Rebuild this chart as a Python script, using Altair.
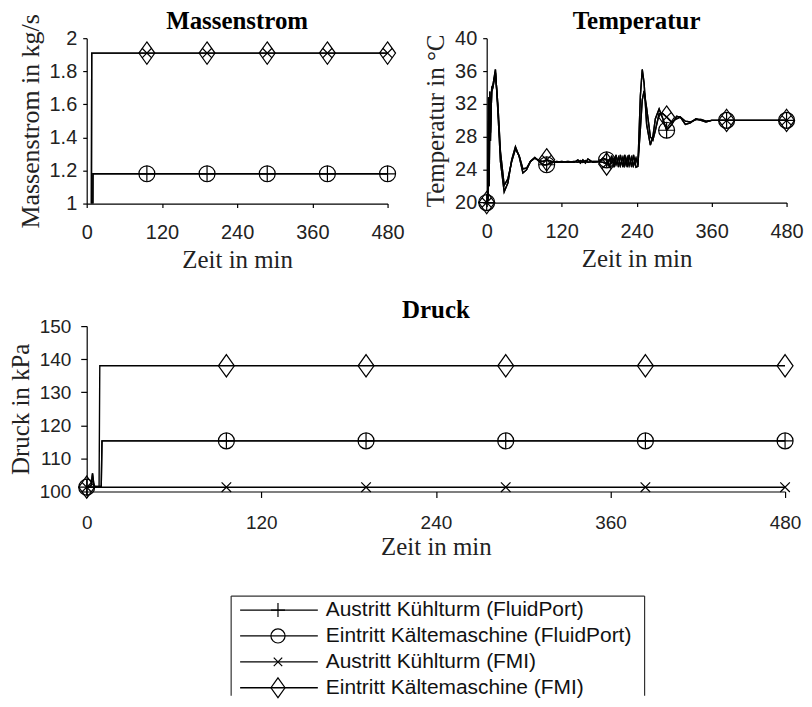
import altair as alt
import pandas as pd

# ---------------- data ----------------
series_names = [
    "Austritt Kühlturm (FluidPort)",
    "Eintritt Kältemaschine (FluidPort)",
    "Austritt Kühlturm (FMI)",
    "Eintritt Kältemaschine (FMI)",
]
x_ticks = [0, 120, 240, 360, 480]
marker_times = [0, 96, 192, 288, 384, 480]

mass_ticks = [1, 1.2, 1.4, 1.6, 1.8, 2]
temp_ticks = [20, 24, 28, 32, 36, 40]
press_ticks = [100, 110, 120, 130, 140, 150]

# Massenstrom (kg/s)
mass_t_fluidport = [0, 9, 10, 96, 192, 288, 384, 480]
mass_fluidport = [0.0, 0.0, 1.18, 1.18, 1.18, 1.18, 1.18, 1.18]
mass_t_fmi = [0, 7, 8, 96, 192, 288, 384, 480]
mass_fmi = [0.0, 0.0, 1.91, 1.91, 1.91, 1.91, 1.91, 1.91]

# Temperatur (°C)
temp_t = [0, 2, 3, 4, 5, 6, 8, 10, 14, 18,
          22, 28, 34, 40, 46, 52, 58, 64, 70, 77,
          84, 90, 96, 104, 112, 120, 130, 140, 146, 150,
          154, 158, 162, 170, 180, 186, 192, 197, 200, 204,
          207, 211, 214, 218, 221, 225, 228, 232, 235, 239,
          242, 246, 249, 252, 256, 262, 266, 270, 276, 282,
          288, 296, 304, 310, 318, 326, 335, 343, 351, 360,
          384, 420, 480]
temp_fluidport = [20, 20.5, 32.8, 22.0, 33.5, 27.5, 34.0, 34.3, 36.2, 31.0,
                  25.0, 21.3, 22.4, 25.2, 26.8, 25.6, 23.6, 24.0, 25.0, 25.5,
                  25.0, 24.6, 24.6, 24.9, 25.0, 24.9, 25.0, 24.9, 25.2, 24.8,
                  25.2, 24.8, 25.3, 24.9, 25.0, 25.4, 25.2, 24.4, 25.7, 24.3,
                  25.8, 24.3, 25.8, 24.3, 25.8, 24.3, 25.8, 24.3, 25.8, 24.3,
                  24.4, 33.0, 36.2, 34.5, 29.5, 27.0, 28.0, 30.2, 31.4, 30.2,
                  28.8, 29.5, 30.5, 30.4, 29.5, 29.7, 30.2, 30.0, 29.8, 30.0,
                  30.0, 30.0, 30.0]
temp_fmi = [20, 20.3, 30.0, 23.0, 32.5, 28.5, 33.5, 34.0, 35.8, 31.8,
            26.2, 22.1, 22.9, 25.0, 26.5, 25.7, 24.1, 24.2, 25.0, 25.4,
            25.1, 25.0, 25.2, 25.0, 24.9, 25.0, 24.9, 25.0, 24.9, 25.1,
            24.9, 25.1, 24.9, 25.0, 25.0, 24.9, 24.7, 25.3, 24.8, 25.4,
            24.6, 25.5, 24.5, 25.5, 24.5, 25.5, 24.5, 25.5, 24.5, 25.4,
            24.6, 29.0, 32.5, 33.6, 31.5, 28.0, 27.6, 28.8, 30.8, 30.8,
            30.4, 29.8, 30.2, 30.4, 29.9, 29.8, 30.1, 30.1, 29.9, 30.0,
            30.0, 30.0, 30.0]

# Druck (kPa)
press_t_fluidport = [0, 3, 4, 5, 6, 10, 10.5, 96, 192, 288, 384, 480]
press_fluidport = [101.3, 101.8, 105.5, 101.8, 101.5, 101.5, 115.3, 115.3, 115.3, 115.3, 115.3, 115.3]
press_t_fmi_eintritt = [0, 8.5, 9, 96, 192, 288, 384, 480]
press_fmi_eintritt = [101.3, 101.3, 138.0, 138.0, 138.0, 138.0, 138.0, 138.0]
press_t_fmi_austritt = [0, 96, 192, 288, 384, 480]
press_fmi_austritt = [101.3, 101.3, 101.3, 101.3, 101.3, 101.3]

panel_titles = ["Massenstrom", "Temperatur", "Druck"]


def frame(pairs):
    rows = []
    for name, (ts, vs) in zip(series_names, pairs):
        for t, v in zip(ts, vs):
            rows.append({"t": t, "v": v, "series": name})
    return pd.DataFrame(rows)


mass_df = frame([(mass_t_fluidport, mass_fluidport), (mass_t_fluidport, mass_fluidport),
                 (mass_t_fmi, mass_fmi), (mass_t_fmi, mass_fmi)])
temp_df = frame([(temp_t, temp_fluidport), (temp_t, temp_fluidport),
                 (temp_t, temp_fmi), (temp_t, temp_fmi)])
press_df = frame([(press_t_fluidport, press_fluidport), (press_t_fluidport, press_fluidport),
                  (press_t_fmi_austritt, press_fmi_austritt), (press_t_fmi_eintritt, press_fmi_eintritt)])

# ---------------- styling ----------------
PLUS = "M-1,0L1,0M0,-1L0,1"
XMARK = "M-0.6,-0.6L0.6,0.6M-0.6,0.6L0.6,-0.6"
DIAMOND = "M0,-1.4L1,0L0,1.4L-1,0Z"
shape_scale = alt.Scale(domain=series_names, range=[PLUS, "circle", XMARK, DIAMOND])

SERIF = "Liberation Serif"
SANS = "Liberation Sans"


def panel(df, title, y_title, y_domain, y_ticks, y_format, width, height, label_size,
          x_label_pad, x_title_pad, y_label_pad, y_title_pad, y_title_size=25, tick=4,
          title_top=-29):
    x = alt.X("t:Q", scale=alt.Scale(domain=[0, 480], nice=False, zero=False),
              axis=alt.Axis(values=x_ticks, title="Zeit in min", labelFontSize=label_size,
                            labelPadding=x_label_pad, titlePadding=x_title_pad, tickSize=tick,
                            labelFlush=False, labelOverlap=False, format="d"))
    y = alt.Y("v:Q", scale=alt.Scale(domain=y_domain, nice=False, zero=False),
              axis=alt.Axis(values=y_ticks, title=y_title, format=y_format, labelFontSize=label_size,
                            labelPadding=y_label_pad, titlePadding=y_title_pad, tickSize=tick,
                            titleFontSize=y_title_size, labelOverlap=False))
    lines = alt.Chart(df).mark_line(color="black", strokeWidth=1.4, clip=True).encode(
        x=x, y=y, detail="series:N")
    pts = alt.Chart(df).transform_filter(
        alt.FieldOneOfPredicate(field="t", oneOf=marker_times)
    ).transform_filter(
        alt.datum.v >= y_domain[0]
    ).mark_point(filled=False, color="black", size=256, strokeWidth=1.2, opacity=1).encode(
        x=x, y=y,
        shape=alt.Shape("series:N", scale=shape_scale, legend=None))
    ttl = alt.Chart(pd.DataFrame({"title": [title]})).mark_text(
        font=SERIF, fontWeight="bold", fontSize=25, color="black",
        align="center", baseline="top").encode(
        x=alt.value(width / 2), y=alt.value(title_top), text="title:N")
    return alt.layer(lines, pts, ttl).properties(width=width, height=height)


mass_chart = panel(mass_df, panel_titles[0], "Massenstrom in kg/s", [1, 2], mass_ticks, ".1~f",
                   302, 166, 20, 15, 5, 6, 6, y_title_size=26)
temp_chart = panel(temp_df, panel_titles[1], "Temperatur in °C", [20, 40], temp_ticks, "d",
                   301, 165, 20, 15, 5, 6, 6)
press_chart = panel(press_df, panel_titles[2], "Druck in kPa", [100, 150], press_ticks, "d",
                    701, 166, 19, 16, 2, 10, 6, tick=6, title_top=-28)

# ---------------- legend (custom, line + marker) ----------------
leg_df = pd.DataFrame({"series": series_names})
BX0, BX1 = 145, 560
BY0, BY1 = 11, 111
LEG_Y0 = BY0 + 14
LEG_STEP = 26
leg_base = alt.Chart(leg_df).transform_window(idx="row_number()").transform_calculate(
    ly=f"{LEG_Y0} + (datum.idx - 1) * {LEG_STEP}")
leg_y = alt.Y("ly:Q", scale=None, axis=None)
leg_lines = leg_base.mark_rule(color="black", strokeWidth=1.3).encode(
    x=alt.value(BX0 + 9), x2=alt.value(BX0 + 87), y=leg_y)
leg_pts = leg_base.mark_point(filled=False, color="black", size=200, strokeWidth=1.2,
                              opacity=1).encode(
    x=alt.value(BX0 + 47), y=leg_y,
    shape=alt.Shape("series:N", scale=shape_scale, legend=None))
leg_text = leg_base.mark_text(align="left", baseline="middle", font=SANS,
                              fontSize=21, color="#111").encode(
    x=alt.value(BX0 + 95), y=leg_y, text="series:N")
box_df = pd.DataFrame({"k": [0]})
box_top = alt.Chart(box_df).mark_rule(color="#333", strokeWidth=1.2).encode(
    x=alt.value(BX0), x2=alt.value(BX1), y=alt.value(BY0))
box_left = alt.Chart(box_df).mark_rule(color="#333", strokeWidth=1.2).encode(
    x=alt.value(BX0), y=alt.value(BY0), y2=alt.value(BY1))
box_right = alt.Chart(box_df).mark_rule(color="#333", strokeWidth=1.2).encode(
    x=alt.value(BX1), y=alt.value(BY0), y2=alt.value(BY1))
legend_chart = alt.layer(box_top, box_left, box_right, leg_lines, leg_pts, leg_text).properties(
    width=600, height=BY1)

top_row = alt.hconcat(mass_chart, temp_chart, spacing=18.5)
chart = alt.vconcat(top_row, press_chart, legend_chart, spacing=26).properties(
    padding={"left": 0, "top": 0, "right": 0, "bottom": 0}
).configure_view(stroke=None).configure_axis(
    grid=False, domainColor="black", tickColor="black", labelColor="#222",
    labelFont=SANS, titleFont=SERIF, titleFontWeight="normal", titleFontSize=25,
    titleColor="#222", domainWidth=1.2, tickWidth=1.2
)

chart.save("out.html", embed_options={"renderer": "svg", "actions": False})
